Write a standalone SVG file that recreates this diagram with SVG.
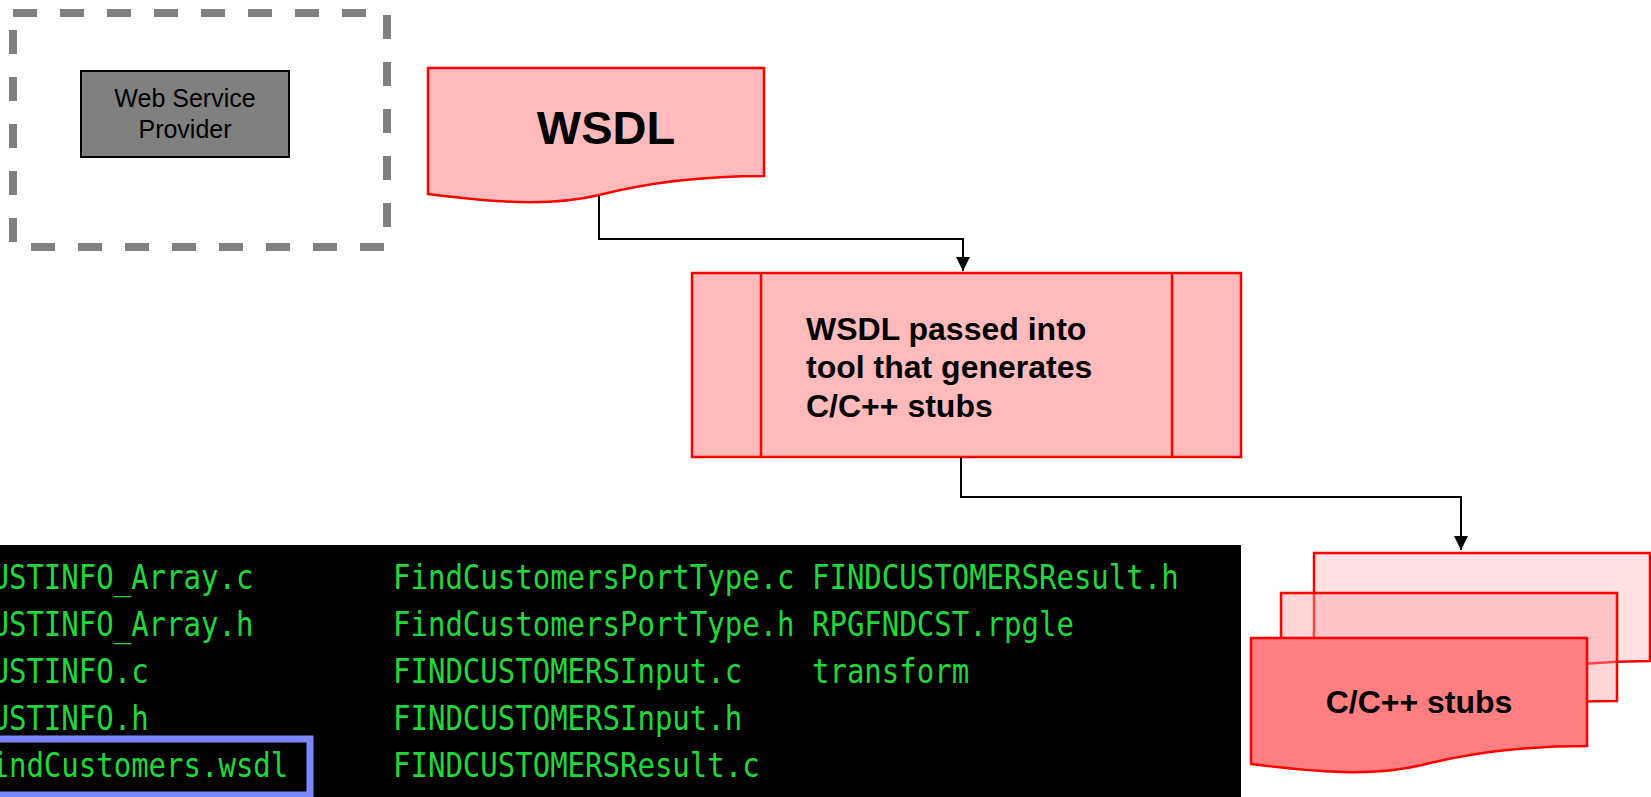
<svg xmlns="http://www.w3.org/2000/svg" width="1651" height="797" viewBox="0 0 1651 797">
<style>
.doc{stroke:#FF0000;stroke-width:2.5}
.lbl{font-family:"Liberation Sans",Arial,sans-serif;fill:#000}
.b{font-weight:bold}
.conn{fill:none;stroke:#000;stroke-width:2}
.term{font-family:"DejaVu Sans Mono","Liberation Mono",monospace;font-size:29px;fill:#1FD83A}
</style>
<defs>
<marker id="arr" markerUnits="userSpaceOnUse" markerWidth="16" markerHeight="16" refX="14" refY="7" orient="auto">
<path d="M0,0 L14,7 L0,14 Z" fill="#000"/>
</marker>
<path id="docshape" d="M0,0 H336 V108 C272,108 222,114 171,127 C122,139 62,134 0,126 Z"/>
</defs>
<rect width="1651" height="797" fill="#FFFFFF"/>

<g id="provider-boundary">
<rect x="13" y="13" width="374" height="234" fill="none" stroke="#808080" stroke-width="8" stroke-dasharray="24 23"/>
</g>

<g id="web-service-provider">
<rect x="81" y="71" width="208" height="86" fill="#808080" stroke="#000" stroke-width="2"/>
<text class="lbl" x="185" y="107" font-size="25" text-anchor="middle">Web Service</text>
<text class="lbl" x="185" y="138" font-size="25" text-anchor="middle">Provider</text>
</g>

<g id="wsdl">
<use href="#docshape" x="428" y="68" class="doc" fill="#FFBBBB"/>
<text class="lbl b" x="606" y="144" font-size="47" text-anchor="middle">WSDL</text>
</g>

<g id="tool">
<rect x="692" y="273" width="549" height="184" fill="#FFBBBB" stroke="#FF0000" stroke-width="2.5"/>
<line x1="761" y1="273" x2="761" y2="457" stroke="#FF0000" stroke-width="2.5"/>
<line x1="1172" y1="273" x2="1172" y2="457" stroke="#FF0000" stroke-width="2.5"/>
<text class="lbl b" font-size="32"><tspan x="806" y="340">WSDL passed into</tspan><tspan x="806" y="378">tool that generates</tspan><tspan x="806" y="417">C/C++ stubs</tspan></text>
</g>

<g id="stubs">
<use href="#docshape" x="1314" y="553" class="doc" fill="#FFE1E4"/>
<use href="#docshape" x="1281" y="593" class="doc" fill="#FF9DA0" fill-opacity="0.43"/>
<use href="#docshape" x="1251" y="638" class="doc" fill="#FF7F80"/>
<text class="lbl b" x="1419" y="713" font-size="32" text-anchor="middle">C/C++ stubs</text>
</g>

<g id="connectors">
<polyline class="conn" points="599,195 599,239 963,239 963,271" marker-end="url(#arr)"/>
<polyline class="conn" points="961,457 961,497 1461,497 1461,550" marker-end="url(#arr)"/>
</g>

<g id="file-listing">
<rect x="0" y="545" width="1241" height="252" fill="#000"/>
<g class="term" transform="scale(1,1.15)">
<text x="-26" y="512.2">CUSTINFO_Array.c</text>
<text x="-26" y="553">CUSTINFO_Array.h</text>
<text x="-26" y="593.9">CUSTINFO.c</text>
<text x="-26" y="634.8">CUSTINFO.h</text>
<text x="-26" y="675.7">FindCustomers.wsdl</text>
<text x="393" y="512.2">FindCustomersPortType.c</text>
<text x="393" y="553">FindCustomersPortType.h</text>
<text x="393" y="593.9">FINDCUSTOMERSInput.c</text>
<text x="393" y="634.8">FINDCUSTOMERSInput.h</text>
<text x="393" y="675.7">FINDCUSTOMERSResult.c</text>
<text x="812" y="512.2">FINDCUSTOMERSResult.h</text>
<text x="812" y="553">RPGFNDCST.rpgle</text>
<text x="812" y="593.9">transform</text>
</g>
<rect x="-10" y="739" width="320" height="56" fill="none" stroke="#7B88FF" stroke-width="7"/>
</g>
</svg>
